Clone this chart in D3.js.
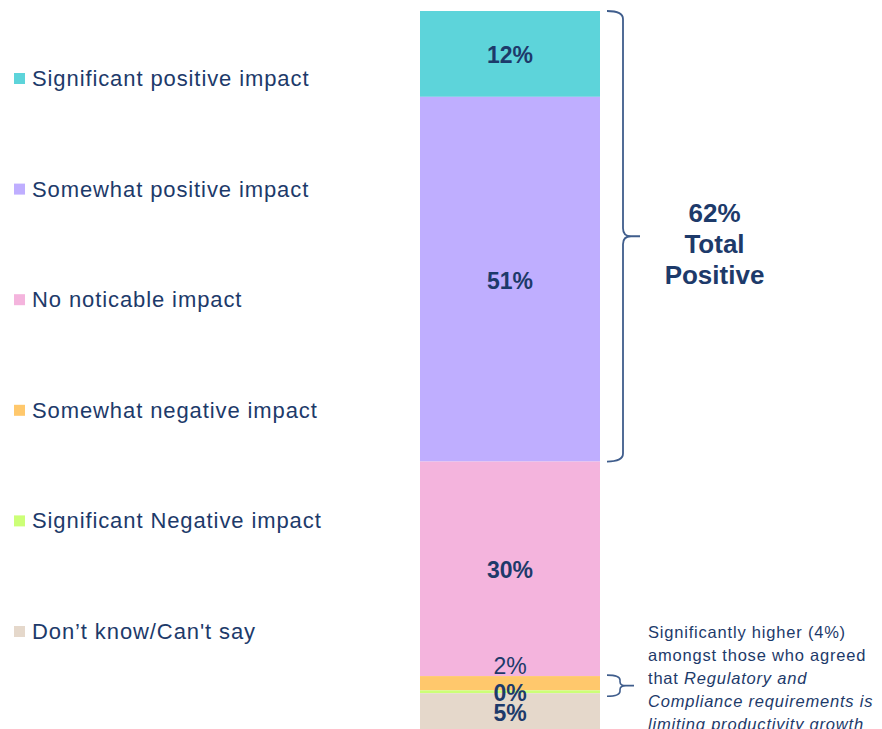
<!DOCTYPE html>
<html>
<head>
<meta charset="utf-8">
<script src="https://cdn.jsdelivr.net/npm/d3@7"></script>
<style>
  body { margin: 0; background: #fff; }
  text { font-family: "Liberation Sans", Arial, Helvetica, sans-serif; fill: #1d3a6a; }
</style>
</head>
<body>
<div id="target"></div>
<script>
const categories = [
  'Significant positive impact',
  'Somewhat positive impact',
  'No noticable impact',
  'Somewhat negative impact',
  'Significant Negative impact',
  'Don\u2019t know/Can\'t say'
];
const values = [12, 51, 30, 2, 0.4, 5];
const colors = ['#5dd4da', '#bfaeff', '#f4b4dd', '#ffc86c', '#ccff77', '#e5d8cb'];
const totalLines = ['62%', 'Total', 'Positive'];
const noteLines = [
  [{t: 'Significantly higher (4%)', i: false}],
  [{t: 'amongst those who agreed', i: false}],
  [{t: 'that ', i: false}, {t: 'Regulatory and', i: true}],
  [{t: 'Compliance requirements is', i: true}],
  [{t: 'limiting productivity growth', i: true}]
];

const width = 882;
const height = 729;
const braceColor = '#3f5d8c';

const svg = d3.select('#target')
  .append('svg')
  .attr('width', width)
  .attr('height', height);

const total = d3.sum(values);
const ends = d3.cumsum(values);
const segs = values.map((v, i) => ({
  name: categories[i],
  value: v,
  y0: ends[i] - v,
  y1: ends[i],
  color: colors[i]
}));

const y = d3.scaleLinear()
  .domain([0, total])
  .range([11, 729]);

const x = d3.scaleBand()
  .domain(['all'])
  .range([420, 600])
  .padding(0);

const fmt = (v) => Math.round(v) + '%';

// bar segments
svg.append('g')
  .attr('class', 'bars')
  .selectAll('rect')
  .data(segs)
  .enter()
  .append('rect')
  .attr('x', x('all'))
  .attr('width', x.bandwidth())
  .attr('y', (d) => y(d.y0))
  .attr('height', (d) => y(d.y1) - y(d.y0))
  .attr('fill', (d) => d.color);

// segment labels, the 2% one sits above its thin slice
svg.append('g')
  .attr('class', 'labels')
  .selectAll('text')
  .data(segs)
  .enter()
  .append('text')
  .attr('x', x('all') + x.bandwidth() / 2)
  .attr('y', (d, i) => {
    if (i === 3) return y(d.y0) - 2;
    return (y(d.y0) + y(d.y1)) / 2 + 9.5;
  })
  .attr('text-anchor', 'middle')
  .style('font-size', '23px')
  .style('font-weight', (d, i) => i === 3 ? 'normal' : 'bold')
  .text((d) => fmt(d.value));

// legend
const ly = d3.scalePoint()
  .domain(categories)
  .range([78, 631]);

const legend = svg.append('g')
  .attr('class', 'legend')
  .selectAll('g')
  .data(segs)
  .enter()
  .append('g')
  .attr('transform', (d) => `translate(0,${ly(d.name)})`);

legend.append('rect')
  .attr('x', 14)
  .attr('y', -5)
  .attr('width', 11)
  .attr('height', 11)
  .attr('fill', (d) => d.color);

legend.append('text')
  .attr('x', 32)
  .attr('y', 8)
  .style('font-size', '22px')
  .style('letter-spacing', '0.9px')
  .text((d) => d.name);

// big brace over positive segments
const b0 = y(0);
const b1 = y(ends[1]);
const bm = (b0 + b1) / 2;
svg.append('path')
  .attr('d', `M607,${b0} Q623,${b0} 623,${b0 + 8} L623,${bm - 8} Q623,${bm} 631,${bm} L640,${bm} M631,${bm} Q623,${bm} 623,${bm + 8} L623,${b1 - 8} Q623,${b1} 607,${b1}`)
  .attr('fill', 'none')
  .attr('stroke', braceColor)
  .attr('stroke-width', 1.8);

svg.append('g')
  .selectAll('text')
  .data(totalLines)
  .enter()
  .append('text')
  .attr('x', 714.5)
  .attr('y', (d, i) => 222 + i * 31)
  .attr('text-anchor', 'middle')
  .style('font-size', '26px')
  .style('font-weight', 'bold')
  .text((d) => d);

// small brace over negative segments
const s0 = y(ends[2]) - 1;
const s1 = y(ends[4]) + 3;
const sm = (s0 + s1) / 2;
svg.append('path')
  .attr('d', `M607,${s0} Q620,${s0} 620,${s0 + 5} L620,${sm - 4} Q620,${sm} 626,${sm} L634,${sm} M626,${sm} Q620,${sm} 620,${sm + 4} L620,${s1 - 5} Q620,${s1} 607,${s1}`)
  .attr('fill', 'none')
  .attr('stroke', braceColor)
  .attr('stroke-width', 1.6);

const note = svg.append('text')
  .attr('x', 648)
  .style('font-size', '16.5px')
  .style('letter-spacing', '0.8px');

noteLines.forEach((line, i) => {
  line.forEach((part, j) => {
    const ts = note.append('tspan')
      .style('font-style', part.i ? 'italic' : 'normal')
      .text(part.t);
    if (j === 0) {
      ts.attr('x', 648).attr('y', 638 + i * 23);
    }
  });
});
</script>
</body>
</html>
